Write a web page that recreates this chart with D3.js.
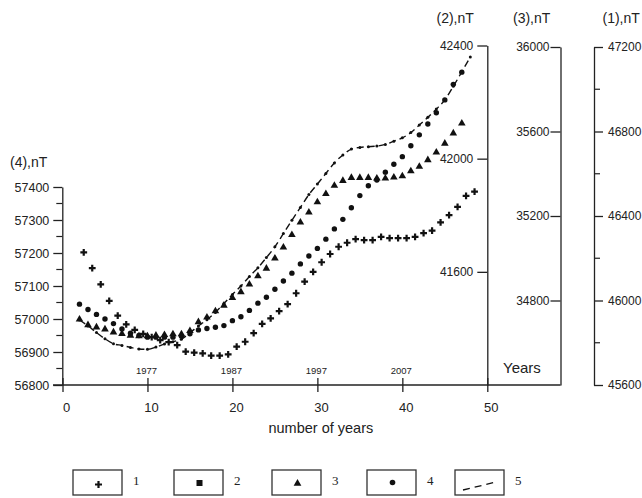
<!DOCTYPE html>
<html><head><meta charset="utf-8">
<script src="https://cdn.jsdelivr.net/npm/d3@7"></script>
<style>
html,body{margin:0;padding:0;background:#fff;}
svg{display:block;background:#fff;}
text{font-family:"Liberation Sans",Arial,sans-serif;fill:#222;}
</style></head><body>
<svg id="chart" width="642" height="498"></svg>
<script>
// ---- data (values read against the left (4) axis, nT) ----
const plusYears = [2.5,3.5,4.5,5.5,6.5,7.5,8.5,9.5,10.5,11.5,12.5,13.5,14.5,15.5,16.5,17.5,18.5,19.5,20.5,21.5,22.5,23.5,24.5,25.5,26.5,27.5,28.5,29.5,30.5,31.5,32.5,33.5,34.5,35.5,36.5,37.5,38.5,39.5,40.5,41.5,42.5,43.5,44.5,45.5,46.5,47.5,48.5];
const plusValues = [57202,57154,57105,57055,57010,56984,56967,56955,56945,56936,56930,56921,56901,56898,56896,56889,56889,56893,56916,56931,56957,56985,57002,57024,57045,57078,57113,57143,57172,57197,57219,57231,57242,57239,57239,57249,57245,57245,57245,57249,57260,57268,57293,57315,57340,57373,57386];
const mainYears = [2,3,4,5,6,7,8,9,10,11,12,13,14,15,16,17,18,19,20,21,22,23,24,25,26,27,28,29,30,31,32,33,34,35,36,37,38,39,40,41,42,43,44,45,46,47];
const triangleValues = [56999,56982,56975,56969,56960,56955,56950,56948,56948,56950,56952,56954,56954,56964,56991,57005,57024,57041,57064,57082,57105,57130,57153,57184,57217,57255,57293,57323,57354,57379,57404,57419,57428,57428,57428,57426,57426,57429,57433,57448,57462,57482,57505,57532,57563,57593];
const dotValues = [57045,57029,57014,57000,56986,56970,56957,56950,56945,56945,56945,56945,56948,56955,56967,56971,56975,56980,56995,57007,57026,57048,57066,57090,57115,57139,57167,57191,57214,57242,57273,57302,57337,57374,57404,57421,57445,57469,57492,57525,57558,57591,57625,57664,57711,57748];
const dashYears = [2,3,4,5,6,7,8,9,10,11,12,13,14,15,16,17,18,19,20,21,22,23,24,25,26,27,28,29,30,31,32,33,34,35,36,37,38,39,40,41,42,43,44,45,46,47,48];
const dashValues = [56997,56979,56959,56940,56925,56920,56914,56909,56908,56915,56924,56931,56939,56958,56979,56998,57020,57047,57074,57100,57129,57155,57186,57219,57259,57299,57338,57377,57409,57441,57473,57497,57515,57520,57522,57524,57529,57539,57549,57565,57588,57611,57636,57664,57705,57749,57794];

const xTicks = [0,10,20,30,40,50];
const yearTickPos = [10,20,30,40];
const yearTickLabels = ["1977","1987","1997","2007"];
const leftTicks = [56800,56900,57000,57100,57200,57300,57400];
const leftMinor = [56850,56950,57050,57150,57250,57350];
const axis2Ticks = [41600,42000,42400];
const axis3Ticks = [34800,35200,35600,36000];
const axis1Ticks = [45600,46000,46400,46800,47200];
const axis1Minor = [45800,46200,46600,47000];
const legendLabels = ["1","2","3","4","5"];
const legendX = [73,174,272,367,455]; // layout of legend boxes

// ---- scales ----
const svg = d3.select("#chart");
const x = d3.scaleLinear().domain([0,50]).range([62.5,487.3]);
const y4 = d3.scaleLinear().domain([56800,57400]).range([385,187]);
const y2 = d3.scaleLinear().domain([41200,42400]).range([385,45.5]);
const y3 = d3.scaleLinear().domain([34400,36000]).range([385,47]);
const y1 = d3.scaleLinear().domain([45600,47200]).range([385,47]);
const axis3X = 560.5, axis1X = 594;
const ink = "#222";

function styleAxis(g, size){
  g.selectAll("path.domain").attr("stroke", ink).attr("stroke-width",1.3);
  g.selectAll(".tick line").attr("stroke", ink).attr("stroke-width",1.3);
  g.selectAll(".tick text").attr("fill","#2a2a2a").style("font-family",'"Liberation Sans",Arial,sans-serif').style("font-size",size+"px");
}

// left axis (4)
const gL = svg.append("g").attr("transform",`translate(${x(0)-0.2},0)`);
gL.call(d3.axisLeft(y4).tickValues(leftTicks).tickSize(9).tickPadding(4).tickSizeOuter(0).tickFormat(d3.format("d")));
styleAxis(gL, 12.5);
gL.selectAll("g.minor").data(leftMinor).join("line").attr("class","minor")
  .attr("x1",-6).attr("x2",0).attr("y1",d=>y4(d)).attr("y2",d=>y4(d))
  .attr("stroke",ink).attr("stroke-width",1.2);

// bottom axis line
svg.append("line").attr("x1",x(0)-9.5).attr("x2",axis3X).attr("y1",y4(56800)).attr("y2",y4(56800))
  .attr("stroke",ink).attr("stroke-width",1.4);
const gB = svg.append("g").attr("transform",`translate(0,${y4(56800)})`);
gB.call(d3.axisBottom(x).tickValues(xTicks).tickSize(7).tickSizeOuter(0));
gB.select("path.domain").remove();
styleAxis(gB, 13);
gB.selectAll(".tick line").attr("y1",-7).attr("y2",7);
gB.selectAll(".tick text").attr("y",27).attr("dy",0).attr("x",3.5);

// year labels
svg.append("g").selectAll("text").data(yearTickPos).join("text")
  .attr("x",d=>x(d)-1).attr("y",374).attr("text-anchor","middle")
  .style("font-size","9.5px").attr("fill","#333").text((d,i)=>yearTickLabels[i]);

// axis (2)
const g2 = svg.append("g").attr("transform",`translate(${x(50)},0)`);
g2.call(d3.axisLeft(y2).tickValues(axis2Ticks).tickSize(10).tickPadding(4).tickSizeOuter(0).tickFormat(d3.format("d")));
styleAxis(g2, 12);
// axis (3)
const g3 = svg.append("g").attr("transform",`translate(${axis3X},0)`);
g3.call(d3.axisLeft(y3).tickValues(axis3Ticks).tickSize(10).tickPadding(1).tickSizeOuter(0).tickFormat(d3.format("d")));
styleAxis(g3, 12);
// axis (1)
const g1 = svg.append("g").attr("transform",`translate(${axis1X},0)`);
g1.call(d3.axisRight(y1).tickValues(axis1Ticks).tickSize(9).tickPadding(5).tickSizeOuter(0).tickFormat(d3.format("d")));
styleAxis(g1, 12);
g1.selectAll("line.minor").data(axis1Minor).join("line").attr("class","minor")
  .attr("x1",0).attr("x2",6).attr("y1",d=>y1(d)).attr("y2",d=>y1(d))
  .attr("stroke",ink).attr("stroke-width",1.2);

// titles
const titleStyle = s => s.style("font-size","14px").attr("fill","#222");
svg.append("text").attr("x",10).attr("y",166.5).text("(4),nT").call(titleStyle);
svg.append("text").attr("x",436.5).attr("y",23).text("(2),nT").call(titleStyle);
svg.append("text").attr("x",513).attr("y",23).text("(3),nT").call(titleStyle);
svg.append("text").attr("x",602.5).attr("y",23).text("(1),nT").call(titleStyle);
svg.append("text").attr("x",503).attr("y",372.5).text("Years").style("font-size","15px").attr("fill","#222");
svg.append("text").attr("x",x(30)+3.5).attr("y",432.5).attr("text-anchor","middle").text("number of years").style("font-size","14.5px").attr("fill","#222");

// ---- series ----
const mark = "#111";
const plusPath = r => `M${-r},0H${r}M0,${-r}V${r}`;
const triSym = d3.symbol().type(d3.symbolTriangle);

// dashed series 5
const dashData = dashYears.map((d,i)=>[d,dashValues[i]]);
svg.append("path").datum(dashData)
  .attr("d", d3.line().x(d=>x(d[0])).y(d=>y4(d[1])).curve(d3.curveMonotoneX))
  .attr("fill","none").attr("stroke",mark).attr("stroke-width",1.4).attr("stroke-dasharray","7,4");
svg.append("g").selectAll("circle").data(dashData).join("circle")
  .attr("cx",d=>x(d[0])).attr("cy",d=>y4(d[1])).attr("r",1.5).attr("fill",mark);

// triangles series 3
svg.append("g").selectAll("path").data(mainYears).join("path")
  .attr("transform",(d,i)=>`translate(${x(d)},${y4(triangleValues[i])})`)
  .attr("d",triSym.size(25)()).attr("fill",mark);

// dots series 4
svg.append("g").selectAll("circle").data(mainYears).join("circle")
  .attr("cx",d=>x(d)).attr("cy",(d,i)=>y4(dotValues[i])).attr("r",2.7).attr("fill",mark);

// pluses series 1
svg.append("g").selectAll("path").data(plusYears).join("path")
  .attr("transform",(d,i)=>`translate(${x(d)},${y4(plusValues[i])})`)
  .attr("d",plusPath(3.4)).attr("stroke",mark).attr("stroke-width",2.2).attr("fill","none");

// ---- legend ----
const bw = 49, bh = 25, by = 470;
const lg = svg.append("g").selectAll("g").data(legendLabels).join("g")
  .attr("transform",(d,i)=>`translate(${legendX[i]},${by})`);
lg.append("rect").attr("width",bw).attr("height",bh).attr("fill","none").attr("stroke","#333").attr("stroke-width",1.3);
lg.append("text").attr("x",bw+11).attr("y",15).text(d=>d)
  .style("font-family",'"Liberation Serif","Times New Roman",serif').style("font-size","13px").attr("fill","#222");
lg.each(function(d,i){
  const g = d3.select(this), cx = bw/2+1, cy = bh/2+1;
  if(i===0) g.append("path").attr("transform",`translate(${cx},${cy+1})`).attr("d",plusPath(3.5)).attr("stroke",mark).attr("stroke-width",2.2);
  if(i===1) g.append("rect").attr("x",cx-3).attr("y",cy-3.5).attr("width",6).attr("height",6).attr("fill",mark);
  if(i===2) g.append("path").attr("transform",`translate(${cx},${cy})`).attr("d",triSym.size(26)()).attr("fill",mark);
  if(i===3) g.append("circle").attr("cx",cx).attr("cy",cy-1).attr("r",2.8).attr("fill",mark);
  if(i===4) g.append("line").attr("x1",8).attr("y1",20).attr("x2",41).attr("y2",12)
      .attr("stroke",mark).attr("stroke-width",1.3).attr("stroke-dasharray","7,5");
});
</script>
</body></html>
